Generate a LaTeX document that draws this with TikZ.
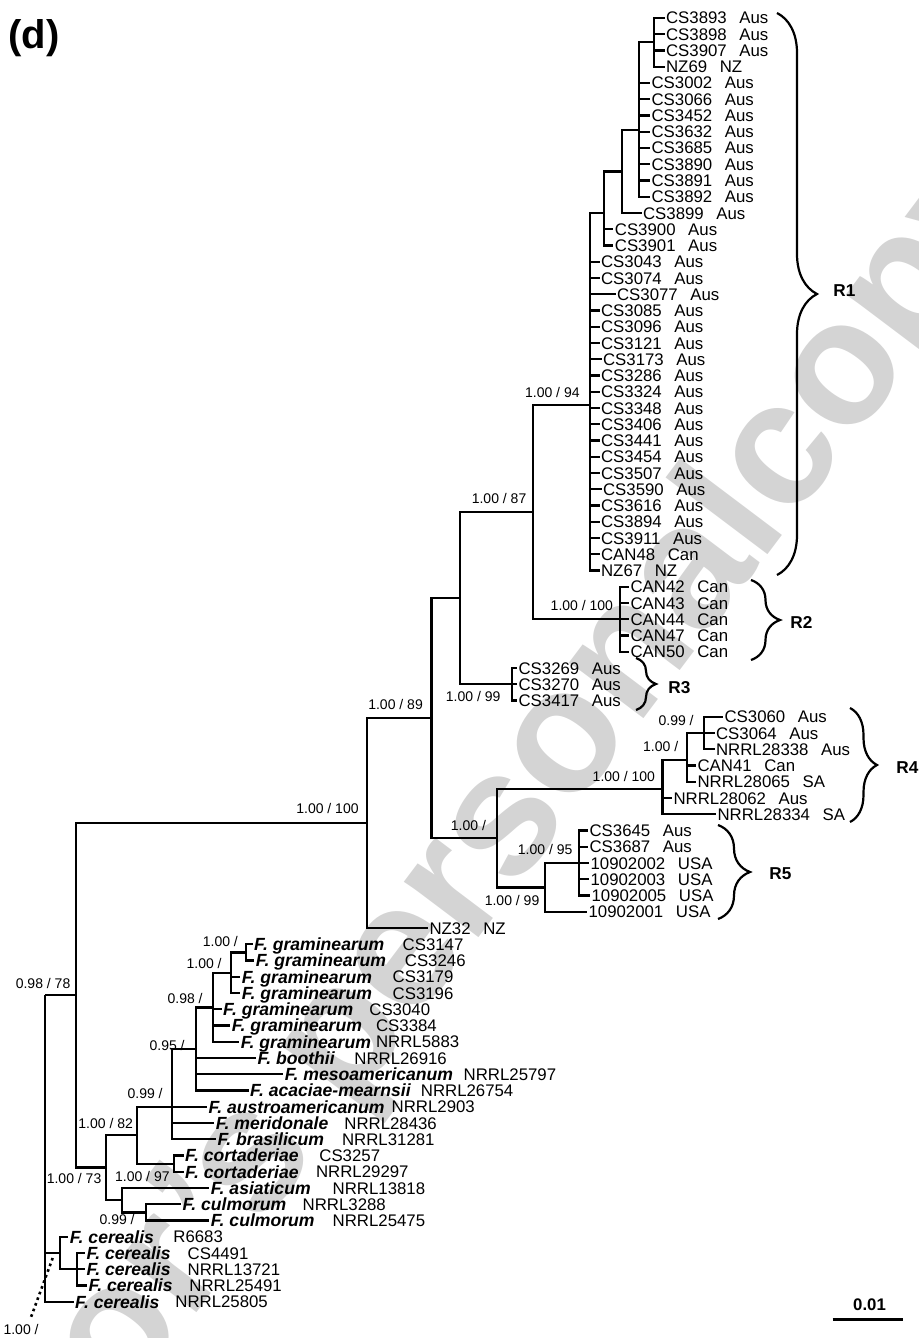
\documentclass[tikz,border=0pt]{standalone}
\usepackage{fontspec}
\setmainfont{Liberation Sans}
\usetikzlibrary{decorations.pathreplacing}
\newcommand\yy[1]{18+16.25*#1}
\newcommand\gp{\hspace{6.3pt}}
\begin{document}
\begin{tikzpicture}[x=0.5pt,y=-0.5pt,
  edge/.style={line width=1.1pt},
  leaf/.style={anchor=west,inner xsep=0.6pt,inner ysep=0pt,text height=6pt,text depth=0pt,font=\fontsize{8.4}{9}\selectfont},
  spc/.style={anchor=west,inner xsep=0.6pt,inner ysep=0pt,text height=6.3pt,text depth=0pt,font=\fontsize{8.8}{10}\selectfont\bfseries\itshape},
  strn/.style={anchor=west,inner sep=0pt,text height=6pt,text depth=0pt,font=\fontsize{8.4}{9}\selectfont},
  supp/.style={anchor=east,inner sep=0pt,text height=5pt,text depth=0pt,font=\fontsize{7}{8}\selectfont},
  reg/.style={anchor=west,inner sep=0pt,text height=6.2pt,text depth=0pt,font=\fontsize{8.6}{9}\selectfont\bfseries},
  brc/.style={line width=1.1pt,decorate,decoration={brace,amplitude=#1}},
  wm/.style={inner sep=0pt,text=black!17,font=\fontsize{88}{88}\selectfont\bfseries},
  dotl/.style={line width=1.3pt,dash pattern=on 1.3pt off 1.7pt}
]
\useasboundingbox (0,0) rectangle (918,1338);
\clip (0,0) rectangle (918,1338);
% watermark
\node[wm,anchor=base west,rotate=53] (wmB) at (790,525) {copy};
\node[wm,anchor=base east,rotate=53] (wmA) at (790,525) {Author's personal\hspace{0.278em}};
% panel label
\node[anchor=west,inner sep=0pt,font=\fontsize{20}{22}\selectfont\bfseries] (panel) at (8,38) {(d)};
% internal nodes
\coordinate (nA) at (654.3,42.4);
\coordinate (nB) at (639,130);
\coordinate (nC) at (622.3,171.5);
\coordinate (nD) at (604.3,213);
\coordinate (nE) at (590,405);
\coordinate (nF) at (532.7,512);
\coordinate (nG) at (620.2,619.25);
\coordinate (nH) at (459.6,598);
\coordinate (nI) at (512.1,684.25);
\coordinate (nJ) at (431.5,718.2);
\coordinate (nK) at (497,838.3);
\coordinate (nL) at (662.5,789.25);
\coordinate (nM) at (687,760);
\coordinate (nN) at (704,733);
\coordinate (nO) at (545,887.4);
\coordinate (nP) at (579,863);
\coordinate (nQ) at (367,823);
\coordinate (nR) at (76,995);
\coordinate (nS) at (106,1167.5);
\coordinate (nT) at (45,995);
\coordinate (nU) at (60,1252.9);
\coordinate (nW) at (77.3,1269);
\coordinate (nV1) at (246,952.4);
\coordinate (nV2) at (231,973);
\coordinate (nV3) at (213,1007.5);
\coordinate (nV4) at (196,1049);
\coordinate (nV5) at (171.7,1106.75);
\coordinate (nV6) at (174.3,1163.6);
\coordinate (nV7) at (137.3,1135);
\coordinate (nV8) at (146,1212.4);
\coordinate (nV9) at (121.7,1200);
% R leaves
\node[leaf] (l0) at (664.5,{\yy{0}}) {CS3893\gp Aus};
\node[leaf] (l1) at (664.5,{\yy{1}}) {CS3898\gp Aus};
\node[leaf] (l2) at (664.5,{\yy{2}}) {CS3907\gp Aus};
\node[leaf] (l3) at (664.5,{\yy{3}}) {NZ69\gp NZ};
\node[leaf] (l4) at (650,{\yy{4}}) {CS3002\gp Aus};
\node[leaf] (l5) at (650,{\yy{5}}) {CS3066\gp Aus};
\node[leaf] (l6) at (650,{\yy{6}}) {CS3452\gp Aus};
\node[leaf] (l7) at (650,{\yy{7}}) {CS3632\gp Aus};
\node[leaf] (l8) at (650,{\yy{8}}) {CS3685\gp Aus};
\node[leaf] (l9) at (650,{\yy{9}}) {CS3890\gp Aus};
\node[leaf] (l10) at (650,{\yy{10}}) {CS3891\gp Aus};
\node[leaf] (l11) at (650,{\yy{11}}) {CS3892\gp Aus};
\node[leaf] (l12) at (641.5,{\yy{12}}) {CS3899\gp Aus};
\node[leaf] (l13) at (613.3,{\yy{13}}) {CS3900\gp Aus};
\node[leaf] (l14) at (613.3,{\yy{14}}) {CS3901\gp Aus};
\node[leaf] (l15) at (599.5,{\yy{15}}) {CS3043\gp Aus};
\node[leaf] (l16) at (599.5,{\yy{16}}) {CS3074\gp Aus};
\node[leaf] (l17) at (615.5,{\yy{17}}) {CS3077\gp Aus};
\node[leaf] (l18) at (599.5,{\yy{18}}) {CS3085\gp Aus};
\node[leaf] (l19) at (599.5,{\yy{19}}) {CS3096\gp Aus};
\node[leaf] (l20) at (599.5,{\yy{20}}) {CS3121\gp Aus};
\node[leaf] (l21) at (601.5,{\yy{21}}) {CS3173\gp Aus};
\node[leaf] (l22) at (599.5,{\yy{22}}) {CS3286\gp Aus};
\node[leaf] (l23) at (599.5,{\yy{23}}) {CS3324\gp Aus};
\node[leaf] (l24) at (599.5,{\yy{24}}) {CS3348\gp Aus};
\node[leaf] (l25) at (599.5,{\yy{25}}) {CS3406\gp Aus};
\node[leaf] (l26) at (599.5,{\yy{26}}) {CS3441\gp Aus};
\node[leaf] (l27) at (599.5,{\yy{27}}) {CS3454\gp Aus};
\node[leaf] (l28) at (599.5,{\yy{28}}) {CS3507\gp Aus};
\node[leaf] (l29) at (601.5,{\yy{29}}) {CS3590\gp Aus};
\node[leaf] (l30) at (599.5,{\yy{30}}) {CS3616\gp Aus};
\node[leaf] (l31) at (599.5,{\yy{31}}) {CS3894\gp Aus};
\node[leaf] (l32) at (599.5,{\yy{32}}) {CS3911\gp Aus};
\node[leaf] (l33) at (599.5,{\yy{33}}) {CAN48\gp Can};
\node[leaf] (l34) at (599.5,{\yy{34}}) {NZ67\gp NZ};
\node[leaf] (l35) at (629,{\yy{35}}) {CAN42\gp Can};
\node[leaf] (l36) at (629,{\yy{36}}) {CAN43\gp Can};
\node[leaf] (l37) at (629,{\yy{37}}) {CAN44\gp Can};
\node[leaf] (l38) at (629,{\yy{38}}) {CAN47\gp Can};
\node[leaf] (l39) at (629,{\yy{39}}) {CAN50\gp Can};
\node[leaf] (l40) at (517,{\yy{40}}) {CS3269\gp Aus};
\node[leaf] (l41) at (517,{\yy{41}}) {CS3270\gp Aus};
\node[leaf] (l42) at (517,{\yy{42}}) {CS3417\gp Aus};
\node[leaf] (l43) at (723,{\yy{43}}) {CS3060\gp Aus};
\node[leaf] (l44) at (714.5,{\yy{44}}) {CS3064\gp Aus};
\node[leaf] (l45) at (714.5,{\yy{45}}) {NRRL28338\gp Aus};
\node[leaf] (l46) at (696,{\yy{46}}) {CAN41\gp Can};
\node[leaf] (l47) at (696,{\yy{47}}) {NRRL28065\gp SA};
\node[leaf] (l48) at (672,{\yy{48}}) {NRRL28062\gp Aus};
\node[leaf] (l49) at (716,{\yy{49}}) {NRRL28334\gp SA};
\node[leaf] (l50) at (588,{\yy{50}}) {CS3645\gp Aus};
\node[leaf] (l51) at (588,{\yy{51}}) {CS3687\gp Aus};
\node[leaf] (l52) at (589,{\yy{52}}) {10902002\gp USA};
\node[leaf] (l53) at (589,{\yy{53}}) {10902003\gp USA};
\node[leaf] (l54) at (590,{\yy{54}}) {10902005\gp USA};
\node[leaf] (l55) at (587,{\yy{55}}) {10902001\gp USA};
\node[leaf] (l56) at (428,{\yy{56}}) {NZ32\gp NZ};
% species leaves
\node[spc] (l57) at (252.6,{\yy{57}}) {F. graminearum};
\node[strn] (s57) at (402.3,{\yy{57}}) {CS3147};
\node[spc] (l58) at (254.3,{\yy{58}}) {F. graminearum};
\node[strn] (s58) at (404.5,{\yy{58}}) {CS3246};
\node[spc] (l59) at (240.3,{\yy{59}}) {F. graminearum};
\node[strn] (s59) at (392.3,{\yy{59}}) {CS3179};
\node[spc] (l60) at (240.3,{\yy{60}}) {F. graminearum};
\node[strn] (s60) at (392.3,{\yy{60}}) {CS3196};
\node[spc] (l61) at (221.6,{\yy{61}}) {F. graminearum};
\node[strn] (s61) at (369,{\yy{61}}) {CS3040};
\node[spc] (l62) at (230.3,{\yy{62}}) {F. graminearum};
\node[strn] (s62) at (375.7,{\yy{62}}) {CS3384};
\node[spc] (l63) at (239.3,{\yy{63}}) {F. graminearum};
\node[strn] (s63) at (375.7,{\yy{63}}) {NRRL5883};
\node[spc] (l64) at (255.9,{\yy{64}}) {F. boothii};
\node[strn] (s64) at (354,{\yy{64}}) {NRRL26916};
\node[spc] (l65) at (283.3,{\yy{65}}) {F. mesoamericanum};
\node[strn] (s65) at (463.3,{\yy{65}}) {NRRL25797};
\node[spc] (l66) at (248.6,{\yy{66}}) {F. acaciae-mearnsii};
\node[strn] (s66) at (420.5,{\yy{66}}) {NRRL26754};
\node[spc] (l67) at (206.9,{\yy{67}}) {F. austroamericanum};
\node[strn] (s67) at (391.3,{\yy{67}}) {NRRL2903};
\node[spc] (l68) at (214.3,{\yy{68}}) {F. meridonale};
\node[strn] (s68) at (344,{\yy{68}}) {NRRL28436};
\node[spc] (l69) at (215.9,{\yy{69}}) {F. brasilicum};
\node[strn] (s69) at (341.7,{\yy{69}}) {NRRL31281};
\node[spc] (l70) at (183.6,{\yy{70}}) {F. cortaderiae};
\node[strn] (s70) at (319,{\yy{70}}) {CS3257};
\node[spc] (l71) at (183.6,{\yy{71}}) {F. cortaderiae};
\node[strn] (s71) at (315.7,{\yy{71}}) {NRRL29297};
\node[spc] (l72) at (209.3,{\yy{72}}) {F. asiaticum};
\node[strn] (s72) at (332.3,{\yy{72}}) {NRRL13818};
\node[spc] (l73) at (180.9,{\yy{73}}) {F. culmorum};
\node[strn] (s73) at (302.3,{\yy{73}}) {NRRL3288};
\node[spc] (l74) at (209.3,{\yy{74}}) {F. culmorum};
\node[strn] (s74) at (332.3,{\yy{74}}) {NRRL25475};
\node[spc] (l75) at (68.3,{\yy{75}}) {F. cerealis};
\node[strn] (s75) at (173,{\yy{75}}) {R6683};
\node[spc] (l76) at (84.9,{\yy{76}}) {F. cerealis};
\node[strn] (s76) at (187.3,{\yy{76}}) {CS4491};
\node[spc] (l77) at (84.9,{\yy{77}}) {F. cerealis};
\node[strn] (s77) at (187.3,{\yy{77}}) {NRRL13721};
\node[spc] (l78) at (86.9,{\yy{78}}) {F. cerealis};
\node[strn] (s78) at (189,{\yy{78}}) {NRRL25491};
\node[spc] (l79) at (73.6,{\yy{79}}) {F. cerealis};
\node[strn] (s79) at (175,{\yy{79}}) {NRRL25805};
% edges
\begin{scope}[edge]
\foreach \i in {0,...,3} \draw (nA) |- (l\i.west);
\foreach \i in {4,...,11} \draw (nB) |- (l\i.west);
\draw (nB) |- (nA);
\draw (nC) |- (nB); \draw (nC) |- (l12.west);
\draw (nD) |- (nC);
\foreach \i in {13,14} \draw (nD) |- (l\i.west);
\draw (nE) |- (nD);
\foreach \i in {15,...,34} \draw (nE) |- (l\i.west);
\draw (nF) |- (nE); \draw (nF) |- (nG);
\foreach \i in {35,...,39} \draw (nG) |- (l\i.west);
\draw (nH) |- (nF); \draw (nH) |- (nI);
\foreach \i in {40,...,42} \draw (nI) |- (l\i.west);
\draw (nJ) |- (nH); \draw (nJ) |- (nK);
\draw (nK) |- (nL); \draw (nK) |- (nO);
\draw (nL) |- (nM); \draw (nL) |- (l48.west); \draw (nL) |- (l49.west);
\draw (nM) |- (nN); \draw (nM) |- (l46.west); \draw (nM) |- (l47.west);
\foreach \i in {43,...,45} \draw (nN) |- (l\i.west);
\draw (nO) |- (nP); \draw (nO) |- (l55.west);
\foreach \i in {50,...,54} \draw (nP) |- (l\i.west);
\draw (nQ) |- (nJ); \draw (nQ) |- (l56.west);
\draw (nR) |- (nQ); \draw (nR) |- (nS);
\draw (nS) |- (nV7); \draw (nS) |- (nV9);
\draw (nV7) |- (nV5); \draw (nV7) |- (nV6);
\draw (nV5) |- (nV4);
\foreach \i in {67,...,69} \draw (nV5) |- (l\i.west);
\draw (nV4) |- (nV3);
\foreach \i in {64,...,66} \draw (nV4) |- (l\i.west);
\draw (nV3) |- (nV2);
\foreach \i in {61,...,63} \draw (nV3) |- (l\i.west);
\draw (nV2) |- (nV1);
\foreach \i in {59,60} \draw (nV2) |- (l\i.west);
\foreach \i in {57,58} \draw (nV1) |- (l\i.west);
\foreach \i in {70,71} \draw (nV6) |- (l\i.west);
\draw (nV9) |- (l72.west); \draw (nV9) |- (nV8);
\foreach \i in {73,74} \draw (nV8) |- (l\i.west);
\draw (nT) |- (nR); \draw (nT) |- (nU); \draw (nT) |- (l79.west);
\draw (nU) |- (l75.west); \draw (nU) |- (nW);
\foreach \i in {76,...,78} \draw (nW) |- (l\i.west);
\end{scope}
% root dotted branch
\coordinate (dotA) at (52.7,1258);
\coordinate (dotB) at (30.7,1318);
\draw[dotl] (dotA) -- (dotB);
% support values
\node[supp] (p94) at (580,392.3) {1.00 / 94};
\node[supp] (p87) at (526.7,498) {1.00 / 87};
\node[supp] (pR2) at (613.4,605) {1.00 / 100};
\node[supp] (pR3) at (500.8,696) {1.00 / 99};
\node[supp] (p89) at (423.2,704) {1.00 / 89};
\node[supp] (pN) at (694,720) {0.99 /};
\node[supp] (pM) at (678.6,746.7) {1.00 /};
\node[supp] (pL) at (655.4,776.7) {1.00 / 100};
\node[supp] (pK) at (486.3,825) {1.00 /};
\node[supp] (pP) at (572.8,849.3) {1.00 / 95};
\node[supp] (pO) at (539.7,900) {1.00 / 99};
\node[supp] (pQ) at (359,808) {1.00 / 100};
\node[supp] (pR) at (70.7,983) {0.98 / 78};
\node[supp] (pV1) at (238.3,941.7) {1.00 /};
\node[supp] (pV2) at (222,963.3) {1.00 /};
\node[supp] (pV3) at (203,998.3) {0.98 /};
\node[supp] (pV4) at (185,1045) {0.95 /};
\node[supp] (pV5) at (163,1093.3) {0.99 /};
\node[supp] (pV7) at (133.3,1123.3) {1.00 / 82};
\node[supp] (pV6) at (170,1176) {1.00 / 97};
\node[supp] (pS) at (101.7,1178.3) {1.00 / 73};
\node[supp] (pV9) at (135,1219.3) {0.99 /};
\node[supp] (pT) at (39,1329) {1.00 /};
% clade braces
\coordinate (b1t) at (777,13);  \coordinate (b1b) at (777,575);
\coordinate (b2t) at (751,580); \coordinate (b2b) at (751,660);
\coordinate (b3t) at (636,658); \coordinate (b3b) at (636,710);
\coordinate (b4t) at (850,708); \coordinate (b4b) at (850,822);
\coordinate (b5t) at (718,825); \coordinate (b5b) at (718,919);
\draw[brc=20pt] (b1t) -- (b1b);
\draw[brc=14.5pt] (b2t) -- (b2b);
\draw[brc=10pt] (b3t) -- (b3b);
\draw[brc=13.5pt] (b4t) -- (b4b);
\draw[brc=16pt] (b5t) -- (b5b);
\node[reg] (R1) at (833,290) {R1};
\node[reg] (R2) at (790,622) {R2};
\node[reg] (R3) at (668,687) {R3};
\node[reg] (R4) at (896,767) {R4};
\node[reg] (R5) at (769,873) {R5};
% scale bar
\coordinate (sb1) at (832.7,1319.3);
\coordinate (sb2) at (902.7,1319.3);
\draw[line width=1.2pt] (sb1) -- (sb2);
\node[inner sep=0pt,text height=6pt,text depth=0pt,font=\fontsize{8.4}{9}\selectfont\bfseries] (sbl) at (869.5,1304) {0.01};
\end{tikzpicture}
\end{document}
